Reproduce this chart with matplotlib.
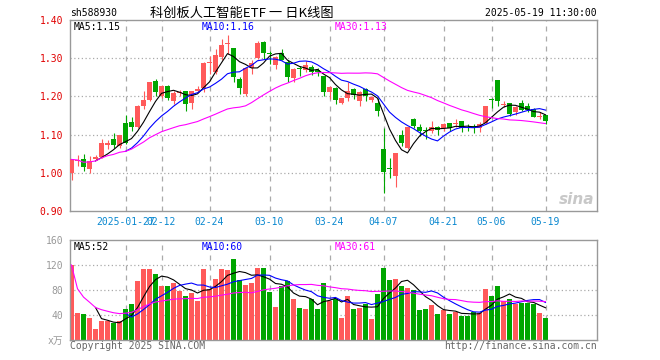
import numpy as np
import pandas as pd
import matplotlib
matplotlib.use("Agg")
import matplotlib.pyplot as plt

plt.rcParams['font.family'] = ['DejaVu Sans Mono', 'Noto Sans CJK SC']

# trading days shown (2025)
dates = (["01-14", "01-15", "01-16", "01-17", "01-20", "01-21", "01-22", "01-23", "01-24", "01-27"]
         + ["02-05", "02-06", "02-07", "02-10", "02-11", "02-12", "02-13", "02-14", "02-17", "02-18",
            "02-19", "02-20", "02-21", "02-24", "02-25", "02-26", "02-27", "02-28"]
         + ["03-03", "03-04", "03-05", "03-06", "03-07", "03-10", "03-11", "03-12", "03-13", "03-14",
            "03-17", "03-18", "03-19", "03-20", "03-21", "03-24", "03-25", "03-26", "03-27", "03-28", "03-31"]
         + ["04-01", "04-02", "04-03", "04-07", "04-08", "04-09", "04-10", "04-11", "04-14", "04-15",
            "04-16", "04-17", "04-18", "04-21", "04-22", "04-23", "04-24", "04-25", "04-28", "04-29", "04-30"]
         + ["05-06", "05-07", "05-08", "05-09", "05-12", "05-13", "05-14", "05-15", "05-16", "05-19"])

tick_dates = ["01-27", "02-12", "02-24", "03-10", "03-24", "04-07", "04-21", "05-06", "05-19"]
tick_text = ["2025-01-27", "02-12", "02-24", "03-10", "03-24", "04-07", "04-21", "05-06", "05-19"]

opens = [1.000, 1.031, 1.035, 1.011, 1.037, 1.042, 1.073, 1.089, 1.070, 1.130,
         1.132, 1.121, 1.175, 1.191, 1.240, 1.202, 1.226, 1.189, 1.209, 1.214,
         1.182, 1.214, 1.221, 1.287, 1.263, 1.303, 1.336, 1.326, 1.246, 1.206,
         1.274, 1.300, 1.342, 1.313, 1.281, 1.314, 1.291, 1.247, 1.274, 1.270,
         1.276, 1.268, 1.253, 1.212, 1.221, 1.184, 1.196, 1.219, 1.189, 1.219,
         1.190, 1.184, 1.061, 1.013, 0.991, 1.100, 1.065, 1.140, 1.121, 1.111,
         1.110, 1.121, 1.116, 1.130, 1.128, 1.135, 1.121, 1.123, 1.118, 1.130,
         1.192, 1.243, 1.178, 1.182, 1.158, 1.182, 1.174, 1.168, 1.145, 1.151]
highs = [1.035, 1.046, 1.048, 1.044, 1.046, 1.088, 1.086, 1.105, 1.100, 1.151,
         1.145, 1.177, 1.215, 1.239, 1.246, 1.230, 1.230, 1.214, 1.218, 1.215,
         1.215, 1.228, 1.289, 1.307, 1.323, 1.351, 1.361, 1.326, 1.250, 1.274,
         1.294, 1.344, 1.344, 1.318, 1.307, 1.325, 1.296, 1.274, 1.279, 1.292,
         1.281, 1.274, 1.254, 1.226, 1.224, 1.197, 1.237, 1.221, 1.215, 1.221,
         1.202, 1.195, 1.118, 1.039, 1.053, 1.112, 1.121, 1.144, 1.127, 1.121,
         1.135, 1.123, 1.130, 1.131, 1.140, 1.135, 1.127, 1.129, 1.133, 1.176,
         1.196, 1.243, 1.189, 1.182, 1.174, 1.191, 1.182, 1.170, 1.158, 1.152]
lows = [0.982, 1.019, 1.004, 1.000, 1.033, 1.039, 1.061, 1.066, 1.066, 1.075,
        1.110, 1.118, 1.167, 1.189, 1.202, 1.197, 1.191, 1.180, 1.202, 1.162,
        1.167, 1.211, 1.211, 1.259, 1.259, 1.294, 1.311, 1.237, 1.206, 1.202,
        1.259, 1.298, 1.298, 1.285, 1.272, 1.294, 1.239, 1.239, 1.253, 1.265,
        1.256, 1.253, 1.202, 1.193, 1.180, 1.180, 1.189, 1.193, 1.175, 1.189,
        1.186, 1.149, 0.947, 0.987, 0.963, 1.070, 1.061, 1.116, 1.096, 1.089,
        1.105, 1.098, 1.110, 1.110, 1.121, 1.107, 1.110, 1.105, 1.107, 1.127,
        1.169, 1.174, 1.172, 1.149, 1.152, 1.162, 1.158, 1.145, 1.140, 1.127]
closes = [1.035, 1.032, 1.016, 1.031, 1.041, 1.079, 1.079, 1.072, 1.098, 1.079,
          1.120, 1.174, 1.191, 1.237, 1.212, 1.226, 1.197, 1.208, 1.212, 1.180,
          1.214, 1.219, 1.288, 1.289, 1.309, 1.335, 1.339, 1.250, 1.221, 1.274,
          1.288, 1.340, 1.314, 1.311, 1.303, 1.296, 1.250, 1.272, 1.271, 1.282,
          1.265, 1.263, 1.212, 1.224, 1.191, 1.195, 1.214, 1.204, 1.212, 1.202,
          1.198, 1.161, 1.002, 1.011, 1.051, 1.077, 1.119, 1.123, 1.110, 1.109,
          1.121, 1.112, 1.129, 1.116, 1.130, 1.118, 1.118, 1.118, 1.127, 1.174,
          1.190, 1.188, 1.180, 1.154, 1.171, 1.165, 1.164, 1.147, 1.147, 1.136]
volumes = [120, 44, 42, 36, 18, 31, 31, 27, 31, 49,
           58, 94, 113, 113, 105, 86, 86, 91, 78, 70,
           75, 62, 113, 82, 97, 113, 112, 130, 96, 88,
           92, 115, 115, 77, 53, 86, 94, 66, 52, 49,
           66, 49, 91, 62, 66, 36, 70, 50, 52, 57,
           34, 73, 116, 96, 97, 86, 83, 80, 48, 50,
           56, 41, 48, 41, 45, 38, 39, 45, 43, 82,
           70, 87, 63, 66, 57, 60, 60, 58, 44, 36]

RED = '#ff5a5a'
GREEN = '#00a600'
GRID = '#aaaaaa'
FRAME = '#999999'

df = pd.DataFrame({'open': opens, 'high': highs, 'low': lows, 'close': closes, 'vol': volumes})
x = np.arange(len(df))
up = df['close'] >= df['open']
colors = np.where(up, RED, GREEN)

ma5 = df['close'].rolling(5).mean()
ma10 = df['close'].rolling(10).mean()
ma30 = df['close'].rolling(30, min_periods=1).mean()
vma5 = df['vol'].rolling(5).mean()
vma10 = df['vol'].rolling(10).mean()
vma30 = df['vol'].rolling(30, min_periods=1).mean()

W, H = 660, 360
fig = plt.figure(figsize=(6.6, 3.6), dpi=100)
ax = fig.add_axes([70 / W, 1 - 211 / H, 527 / W, 191 / H])
axv = fig.add_axes([70 / W, 1 - 340 / H, 527 / W, 100 / H])

tick_pos = [dates.index(d) for d in tick_dates]
xlim = ((70 - 71.5) / 6, (597 - 71.5) / 6)

for a in (ax, axv):
    a.set_xlim(*xlim)
    for s in a.spines.values():
        s.set_color(FRAME)
        s.set_linewidth(1)
    for p in tick_pos:
        a.axvline(p, color=GRID, lw=0.9, ls=(0, (4, 4)), zorder=0)
    a.tick_params(length=0)
    a.set_xticks([])

# candles
body = np.maximum((df['close'] - df['open']).abs(), 0.0026)
ax.vlines(x, df['low'], df['high'], colors=colors, lw=0.8, zorder=2)
ax.bar(x, body, bottom=np.minimum(df['open'], df['close']), width=0.82,
       color=colors, linewidth=0, zorder=3)
ax.plot(x, ma5, color='black', lw=0.8, zorder=4)
ax.plot(x, ma10, color='#0000ff', lw=0.8, zorder=4)
ax.plot(x, ma30, color='#ff00ff', lw=0.8, zorder=4)
ax.set_ylim(0.90, 1.40)
for v in [1.0, 1.1, 1.2, 1.3]:
    ax.axhline(v, color=GRID, lw=0.9, ls=(0, (1, 2)), zorder=0)
ax.set_yticks([0.9, 1.0, 1.1, 1.2, 1.3, 1.4])
ax.set_yticklabels(['%.2f' % v for v in [0.9, 1.0, 1.1, 1.2, 1.3, 1.4]])
ax.tick_params(axis='y', labelcolor='#e00000', labelsize=7, pad=5)
for p, t in zip(tick_pos, tick_text):
    ax.text(p, -0.055, t, transform=ax.get_xaxis_transform(), ha='center', va='center',
            fontsize=7, color='#0a88d0')

ax.text(0.006, 0.965, 'MA5:%.2f' % ma5.iloc[-1], transform=ax.transAxes, fontsize=7,
        color='black', va='center')
ax.text(0.25, 0.965, 'MA10:%.2f' % ma10.iloc[-1], transform=ax.transAxes, fontsize=7,
        color='#0000ff', va='center')
ax.text(0.502, 0.965, 'MA30:%.2f' % ma30.iloc[-1], transform=ax.transAxes, fontsize=7,
        color='#ff00ff', va='center')
ax.text(0.995, 0.06, 'sina', transform=ax.transAxes, ha='right', va='center',
        fontsize=11, color='#c8c8c8', style='italic', weight='bold', family='DejaVu Sans')

# volume
axv.bar(x, df['vol'], width=0.82, color=colors, linewidth=0, zorder=2)
axv.plot(x, vma5, color='black', lw=0.8, zorder=4)
axv.plot(x, vma10, color='#0000ff', lw=0.8, zorder=4)
axv.plot(x, vma30, color='#ff00ff', lw=0.8, zorder=4)
axv.set_ylim(0, 160)
for v in [40, 80, 120]:
    axv.axhline(v, color=GRID, lw=0.9, ls=(0, (1, 2)), zorder=1)
axv.set_yticks([0, 40, 80, 120, 160])
axv.set_yticklabels(['x万', '40', '80', '120', '160'])
axv.tick_params(axis='y', labelcolor='#999999', labelsize=7, pad=5)
axv.text(0.006, 0.935, 'MA5:%d' % round(vma5.iloc[-1]), transform=axv.transAxes, fontsize=7,
         color='black', va='center')
axv.text(0.25, 0.935, 'MA10:%d' % round(vma10.iloc[-1]), transform=axv.transAxes, fontsize=7,
         color='#0000ff', va='center')
axv.text(0.502, 0.935, 'MA30:%d' % round(vma30.iloc[-1]), transform=axv.transAxes, fontsize=7,
         color='#ff00ff', va='center')

# header and footer
fig.text(70 / W, 1 - 13 / H, 'sh588930', fontsize=7, va='center')
fig.text(150 / W, 1 - 13 / H, '科创板人工智能ETF 一 日K线图', fontsize=9.5, va='center',
         family=['Noto Sans CJK SC', 'DejaVu Sans'])
fig.text(597 / W, 1 - 13 / H, '2025-05-19 11:30:00', fontsize=7, va='center', ha='right')
fig.text(70 / W, 1 - 346 / H, 'Copyright 2025 SINA.COM', fontsize=7, va='center', color='#666666')
fig.text(597 / W, 1 - 346 / H, 'http://finance.sina.com.cn', fontsize=7, va='center',
         ha='right', color='#666666')

fig.savefig('out.png', dpi=100)
